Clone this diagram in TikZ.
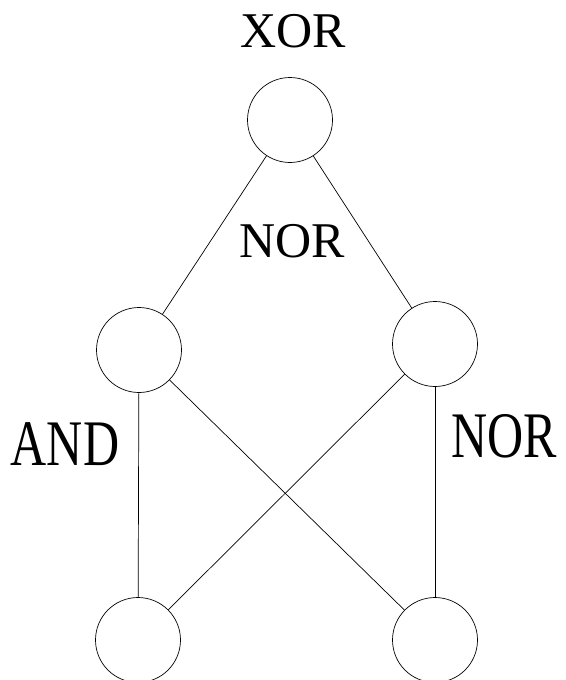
\documentclass[tikz,border=0pt]{standalone}
\usepackage{fontspec}
\setmainfont{Liberation Serif}
\newcommand{\tallword}[1]{\scalebox{1}[1.3]{#1}}
\begin{document}
\begin{tikzpicture}[x=1pt,y=-1pt,line width=0.7pt,
    gate/.style={circle,draw,minimum size=85pt,inner sep=0pt},
    gatelabel/.style={anchor=base,inner sep=0pt,font=\fontsize{50}{60}\selectfont}]
                \useasboundingbox (0,0) rectangle (565,680);
                \node[gate] (top) at (290,120) {};
                \node[gate] (ml) at (139,350) {};
                \node[gate] (mr) at (435,344) {};
                \node[gate] (bl) at (138,640) {};
                \node[gate] (br) at (435,640) {};
                \node[gatelabel] (xor) at (293,47) {XOR};
                \node[gatelabel] (nortop) at (292,257) {NOR};
                \node[gatelabel] (and) at (65,465) {\tallword{AND}};
                \node[gatelabel] (norright) at (504,457) {\tallword{NOR}};
                \draw (top) -- (ml);
                \draw (top) -- (mr);
                \draw (ml) -- (bl);
                \draw (ml) -- (br);
                \draw (mr) -- (bl);
                \draw (mr) -- (br);
            \end{tikzpicture}
\end{document}
